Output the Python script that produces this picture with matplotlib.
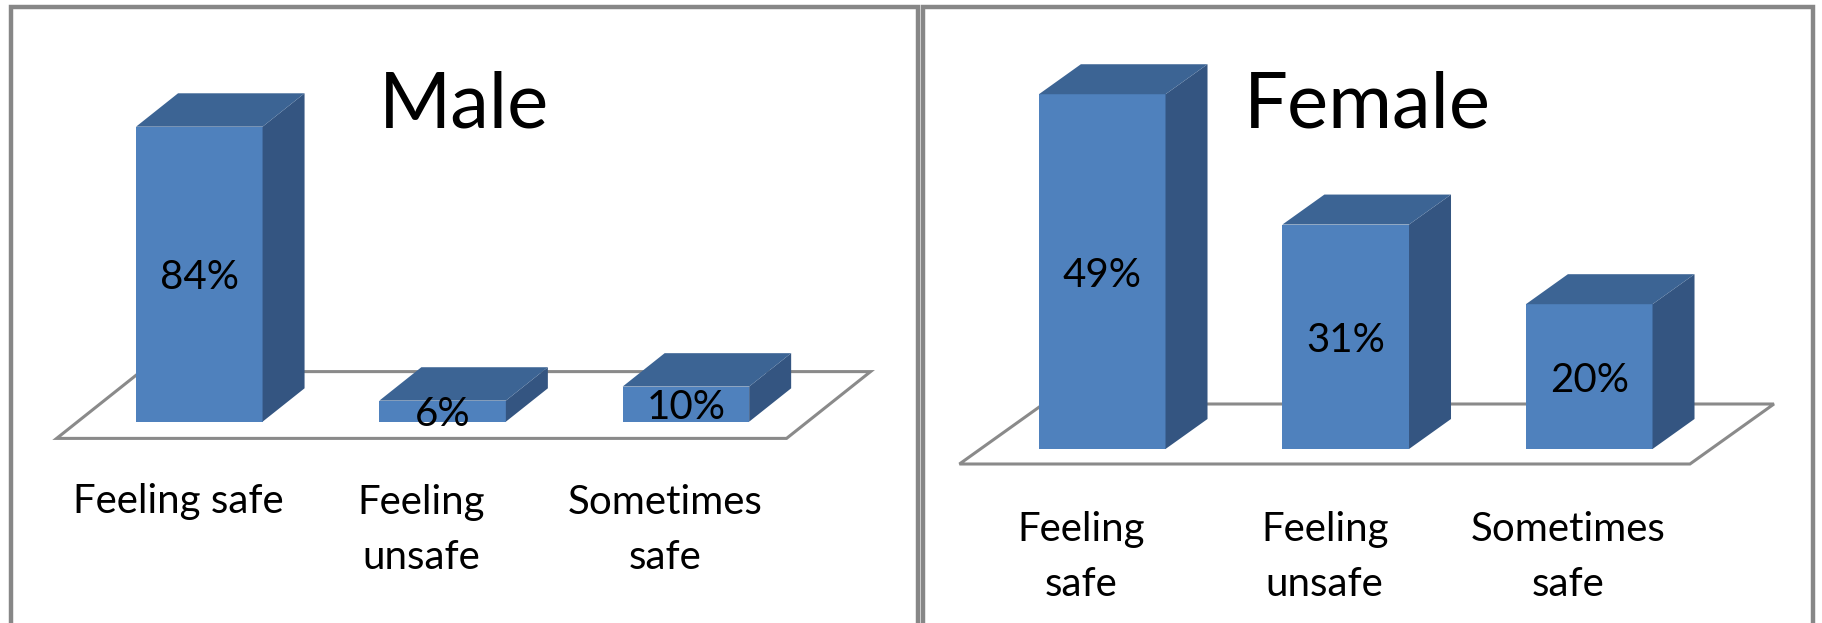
import numpy as np
import matplotlib.pyplot as plt
from matplotlib.patches import Polygon, Rectangle

plt.rcParams['font.family'] = ['Lato', 'DejaVu Sans']

# data
male_labels = ['Feeling safe', 'Feeling\nunsafe', 'Sometimes\nsafe']
female_labels = ['Feeling\nsafe', 'Feeling\nunsafe', 'Sometimes\nsafe']
male_pct = [84, 6, 10]
female_pct = [49, 31, 20]

front_c = '#4f81bd'
top_c = '#3c6494'
side_c = '#345581'
floor_c = '#8a8a8a'
frame_c = '#878787'

W, H = 1822, 623
LINE_GAP = 56  # px between label lines
fig = plt.figure(figsize=(W / 100, H / 100), dpi=100)


def px2data(ax, dxp, dyp):
    t = ax.transData
    x0, y0 = t.transform((0, 0))
    return t.inverted().transform((x0 + dxp, y0 + dyp))


def draw_panel(rect, x0_px, step_px, base_px, pct_px, depth_px, values, labels,
               title, title_x, label_base):
    ax = fig.add_axes(rect)
    left_px, width_px = rect[0] * W, rect[2] * W
    ax.set_xlim((left_px - x0_px) / step_px, (left_px + width_px - x0_px) / step_px)
    ax.set_ylim(-(H - base_px) / pct_px, base_px / pct_px)
    ax.axis('off')
    dx, dy = px2data(ax, *depth_px)
    hw = 0.26
    n = len(values)
    x = np.arange(n)

    # floor, twice as deep as the bars
    fx0, fx1 = -0.5, n - 0.5
    floor = [(fx0 - dx / 2, -dy / 2), (fx1 - dx / 2, -dy / 2),
             (fx1 + 1.5 * dx, 1.5 * dy), (fx0 + 1.5 * dx, 1.5 * dy)]
    ax.add_patch(Polygon(floor, closed=True, facecolor='white',
                         edgecolor=floor_c, lw=2.2, zorder=1))

    ax.bar(x, values, width=2 * hw, color=front_c, zorder=3)
    for xi, v in zip(x, values):
        side = [(xi + hw, 0), (xi + hw + dx, dy), (xi + hw + dx, v + dy), (xi + hw, v)]
        top = [(xi - hw, v), (xi + hw, v), (xi + hw + dx, v + dy), (xi - hw + dx, v + dy)]
        ax.add_patch(Polygon(side, closed=True, facecolor=side_c, lw=0, zorder=3))
        ax.add_patch(Polygon(top, closed=True, facecolor=top_c, lw=0, zorder=3))
        ax.text(xi, v / 2, f'{v}%', ha='center', va='center_baseline',
                fontsize=29, zorder=5)

    # va='baseline' on multi-line text aligns the last line
    for xi, lab in zip(x, labels):
        last_base = label_base + LINE_GAP * lab.count('\n')
        ax.text(xi - dx / 2, 1 - last_base / H, lab, transform=ax.get_xaxis_transform(),
                ha='center', va='baseline', fontsize=29, linespacing=1.6)

    fig.text(title_x / W, 1 - 128 / H, title, ha='center', va='baseline', fontsize=56)
    return ax


draw_panel([0, 0, 0.5, 1], 199.3, 243.3, 421.7, 3.512, (42, 33.4),
           male_pct, male_labels, 'Male', 464.5, 513)
draw_panel([0.5, 0, 0.5, 1], 1102.2, 243.5, 449.0, 7.24, (42, 30),
           female_pct, female_labels, 'Female', 1367.5, 540)

# panel frames (bottom edge runs off the picture)
for x0, x1 in [(11, 918), (923, 1812.5)]:
    fig.add_artist(Rectangle((x0 / W, -0.1), (x1 - x0) / W, 1.1 - 6.7 / H,
                             transform=fig.transFigure, fill=False,
                             edgecolor=frame_c, lw=3.2))

fig.savefig('out.png', dpi=100)
